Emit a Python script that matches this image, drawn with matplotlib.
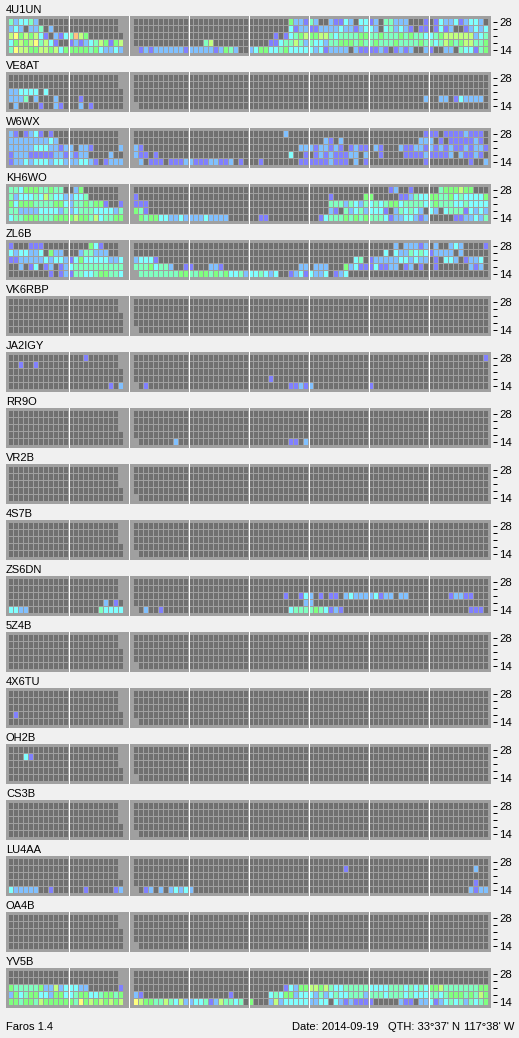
import matplotlib
matplotlib.use("Agg")
import matplotlib.pyplot as plt

names = ["4U1UN", "VE8AT", "W6WX", "KH6WO", "ZL6B", "VK6RBP", "JA2IGY", "RR9O", "VR2B",
         "4S7B", "ZS6DN", "5Z4B", "4X6TU", "OH2B", "CS3B", "LU4AA", "OA4B", "YV5B"]
band_labels = ["28", "", "", "", "14"]

# signal level per 5 minute cell, one dict per band row (28 at top), keys are hour blocks of 12 cells
s_4u1un = [
    {0: "423342000000", 4: "000000005221", 5: "420021132033", 6: "120442220001", 7: "013223123320"},
    {0: "232022402000", 4: "000000003122", 5: "112222322123", 6: "320342321011", 7: "013120012323"},
    {0: "675656310213", 1: "486500000000", 4: "000001013456", 5: "556643444455", 6: "445444545443", 7: "345666666234"},
    {0: "356567463100", 1: "121234651560", 3: "000460000000", 4: "000011344642", 5: "433244555454", 6: "454445444454", 7: "434654566445"},
    {0: "476655665635", 1: "555545322320", 2: "001212222221", 3: "222221254200", 4: "235533453333", 5: "323122220211", 6: "112101212002", 7: "100220433145"},
]
s_ve8at = [
    {},
    {},
    {0: "223333030000"},
    {0: "222402000200", 1: "001000000000", 6: "000000000002", 7: "002201322220"},
    {0: "020000100210", 1: "002010000000"},
]
s_w6wx = [
    {0: "210123101000", 4: "000000020000", 6: "000000000001", 7: "110111121110"},
    {0: "222222223200", 5: "000210200000", 6: "000000000022", 7: "201011111210"},
    {0: "222223332212", 1: "202210000020", 2: "021000000000", 4: "000000000022", 5: "212212101211", 6: "021000211221", 7: "212121121221"},
    {0: "122211111221", 1: "212200002000", 2: "021101000000", 4: "000000003001", 5: "012121112202", 6: "001000011112", 7: "111120211210"},
    {0: "122323332332", 1: "223321012220", 2: "002011101112", 3: "211122112010", 4: "001000000011", 5: "111121110201", 6: "000000000001", 7: "000000001002"},
]
s_kh6wo = [
    {0: "443555445440", 1: "025000000000", 6: "000012001000", 7: "004555655000"},
    {0: "423334364332", 1: "233400000000", 2: "010000000000", 5: "000010000005", 6: "500000112433", 7: "554453433335"},
    {0: "535554444553", 1: "244545510010", 2: "011100000000", 5: "000044424324", 6: "343455344443", 7: "454443343333"},
    {0: "442222333324", 1: "234443333240", 2: "054100000000", 5: "000021042342", 6: "333102434320", 7: "320344413232"},
    {0: "344555444555", 1: "565546344550", 2: "005455332232", 3: "222322220000", 4: "001100000000", 5: "001344454545", 6: "444312233212", 7: "000001122324"},
]
s_zl6b = [
    {0: "100011100000", 1: "000053100000", 6: "000002022212", 7: "020023200001"},
    {0: "323322305220", 1: "002442220000", 6: "000303224343", 7: "122220200000"},
    {0: "112222232332", 1: "135333332230", 2: "023331000000", 5: "000000000340", 6: "122222332322", 7: "010332012230"},
    {0: "002013012012", 1: "344444444440", 2: "044453442001", 3: "100022100000", 4: "000000000022", 5: "022200052311", 6: "131122012010", 7: "010000002120"},
    {0: "000000001012", 1: "144334554430", 2: "004444444455", 3: "445545453342", 4: "334323001231", 5: "322301230000"},
]
s_ja2igy = [
    {1: "000100000000", 7: "000000000001"},
    {0: "001001000000"},
    {},
    {4: "000010000000"},
    {1: "000000001020", 2: "000100000000", 4: "000000001121", 5: "200000000000", 6: "100000000000"},
]
s_rr9o = [{}, {}, {}, {}, {2: "000000000200", 4: "000000001102"}]
s_zs6dn = [
    {},
    {},
    {4: "000000010013", 5: "201011023222", 6: "231220220000", 7: "000012211000"},
    {1: "000000020100", 4: "000000000002", 5: "200000000000"},
    {0: "332200000000", 1: "000000433330", 2: "000200100000", 4: "000000003444", 5: "454312100000", 7: "000000001110"},
]
s_4x6tu = [{}, {}, {}, {0: "010000000000"}, {}]
s_oh2b = [{}, {0: "000310000000"}, {}, {}, {}]
s_lu4aa = [
    {},
    {5: "000000010000", 7: "000000000200"},
    {},
    {7: "000000000100"},
    {0: "322222001000", 1: "000100000120", 2: "000120202323", 3: "200000000000", 7: "000000002122"},
]
s_yv5b = [
    {},
    {},
    {0: "544444522623", 1: "332200000010", 4: "000000013255", 5: "665643344444", 6: "333344434343", 7: "556444444455"},
    {0: "253455332553", 1: "345533455450", 2: "021000000000", 3: "000000001000", 4: "000034355233", 5: "324234334442", 6: "444344434333", 7: "443455545465"},
    {0: "554554655555", 1: "547565656560", 2: "076554464362", 3: "233412644340", 4: "500026233333", 5: "223303212111", 6: "100000211022", 7: "312343424345"},
]
s_none = [{}, {}, {}, {}, {}]

stations = [s_4u1un, s_ve8at, s_w6wx, s_kh6wo, s_zl6b, s_none, s_ja2igy, s_rr9o, s_none,
            s_none, s_zs6dn, s_none, s_4x6tu, s_oh2b, s_none, s_lu4aa, s_none, s_yv5b]

level_colors = ["#707070", "#8080FF", "#80C0FF", "#80FFFF", "#80FFC0", "#80FF80", "#C0FF80", "#FFFF80", "#FFC080"]

# stations whose 21 MHz row stops one cell early before the gap
short_21 = ["RR9O", "VR2B", "4S7B", "ZS6DN", "4X6TU", "OH2B", "CS3B", "LU4AA"]

W, H = 519, 1038
plt.rcParams["font.family"] = ["Liberation Sans", "DejaVu Sans"]
fig = plt.figure(figsize=(W / 100, H / 100), dpi=100, facecolor="#F0F0F0")

for i, (name, rows) in enumerate(zip(names, stations)):
    top = 16 + 56 * i
    ax = fig.add_axes([6 / W, 1 - (top + 40) / H, 491 / W, 40 / H], facecolor="none")
    ax.set_xlim(-0.6, 97.6)
    ax.set_ylim(37 / 7, -3 / 7)
    ax.axvspan(-0.6, 96.4, color="#A0A0A0", lw=0, antialiased=False, zorder=0)

    for r in range(5):
        last = 21 if r < 2 or (r == 2 and name in short_21) else 22
        first = 26 if r == 4 and name != "YV5B" else 25
        xs, cols = [], []
        for c in list(range(0, last + 1)) + list(range(first, 96)):
            block = rows[r].get(c // 12, "0" * 12)
            xs.append(c)
            cols.append(level_colors[int(block[c % 12])])
        ax.bar(xs, [6 / 7] * len(xs), width=0.8, bottom=r, align="edge", color=cols,
               linewidth=0, antialiased=False, zorder=2)

    for h in range(1, 8):
        ax.axvline(12 * h - 0.1, color="white", lw=0.72, antialiased=False, zorder=3)

    for sp in ax.spines.values():
        sp.set_visible(False)
    ax.set_xticks([])
    ax.yaxis.tick_right()
    ax.set_yticks([r + 3 / 7 for r in range(5)])
    ax.set_yticklabels(band_labels)
    ax.tick_params(axis="y", direction="in", length=2.9, width=0.72, pad=1.5, labelsize=8.2, color="black")
    fig.text(6 / W, 1 - (top - 3) / H, name, fontsize=8, va="baseline", ha="left")

fig.text(6 / W, 1 - 1029.5 / H, "Faros 1.4", fontsize=8, va="baseline")
fig.text(292.5 / W, 1 - 1029.5 / H, "Date: 2014-09-19", fontsize=8, va="baseline")
fig.text(387.5 / W, 1 - 1029.5 / H, "QTH: 33°37' N", fontsize=8, va="baseline")
fig.text(463.5 / W, 1 - 1029.5 / H, "117°38' W", fontsize=8, va="baseline")

fig.savefig("out.png", dpi=100, facecolor=fig.get_facecolor())
